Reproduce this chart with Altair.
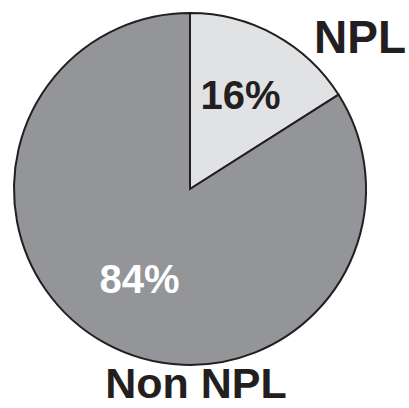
import altair as alt
import pandas as pd

# Share of loans by category
categories = ["NPL", "Non NPL"]
shares = [16, 84]
labels = ["16%", "84%"]

df = pd.DataFrame({
    "category": categories,
    "share": shares,
    "label": labels,
    "rank": list(range(len(categories))),
})

FONT = "Liberation Sans"
INK = "#231f20"

base = alt.Chart(df).encode(
    theta=alt.Theta("share:Q", stack=True),
    order=alt.Order("rank:Q"),
)

pie = base.mark_arc(outerRadius=176, stroke=INK, strokeWidth=2).encode(
    color=alt.Color(
        "category:N",
        scale=alt.Scale(domain=categories, range=["#e1e2e4", "#939598"]),
        legend=None,
    )
)

pct = base.mark_text(
    radius=105, fontSize=40, fontWeight="bold", font=FONT
).encode(
    text="label:N",
    color=alt.condition("datum.category == 'NPL'", alt.value(INK), alt.value("white")),
)

name_npl = (
    alt.Chart(df)
    .transform_filter("datum.category == 'NPL'")
    .mark_text(fontSize=46, fontWeight="bold", font=FONT, color=INK, baseline="alphabetic")
    .encode(text="category:N", x=alt.value(360), y=alt.value(53))
)

name_other = (
    alt.Chart(df)
    .transform_filter("datum.category == 'Non NPL'")
    .mark_text(fontSize=43, fontWeight="bold", font=FONT, color=INK, baseline="alphabetic")
    .encode(text="category:N", x=alt.value(196), y=alt.value(398))
)

chart = (
    alt.layer(pie, pct, name_npl, name_other)
    .properties(
        width=380,
        height=378,
        autosize=alt.AutoSizeParams(type="none"),
        padding={"left": 0, "top": 0, "right": 29, "bottom": 30},
        background="white",
    )
    .configure_view(stroke=None)
)

chart.save("out.html", embed_options={"renderer": "svg", "actions": False})
